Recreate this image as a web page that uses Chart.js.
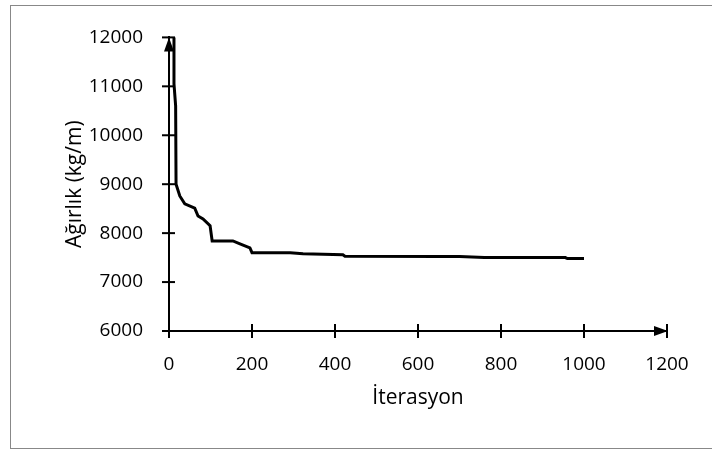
<!DOCTYPE html>
<html>
<head>
<meta charset="utf-8">
<script src="https://cdn.jsdelivr.net/npm/chart.js@4"></script>
<style>
    body { margin: 0; background: #fff; }
    #wrap { position: relative; width: 712px; height: 449px; }
    #frame { position: absolute; left: 10px; top: 5px; width: 710px; height: 442px; border: 1px solid #888; }
    canvas { position: absolute; left: 0; top: 0; }
</style>
</head>
<body>
<div id="wrap">
    <div id="frame"></div>
    <canvas id="chart" width="712" height="449"></canvas>
</div>
<script>
// Iteration numbers and weights
const iterations = [12, 12, 16, 17, 19, 26, 38, 62, 70, 82, 99, 104, 130, 154, 171, 195, 200, 292, 323, 419, 424, 653, 700, 760, 955, 960, 1000];
const weights = [12300, 11050, 10600, 9000, 9000, 8760, 8600, 8510, 8350, 8290, 8150, 7840, 7840, 7840, 7780, 7700, 7600, 7600, 7580, 7560, 7530, 7520, 7520, 7500, 7500, 7480, 7480];

const xTicks = [0, 200, 400, 600, 800, 1000, 1200];
const yTicks = [6000, 7000, 8000, 9000, 10000, 11000, 12000];

const fontFamily = "'Open Sans', sans-serif";

// Draw crossing tick marks and the arrow heads on both axes
const axisArrows = {
    id: 'axisArrows',
    afterDraw(chart) {
        const ctx = chart.ctx;
        const x = chart.scales.x;
        const y = chart.scales.y;
        const x0 = x.getPixelForValue(0);
        const y0 = y.getPixelForValue(6000);
        ctx.save();
        ctx.strokeStyle = '#000';
        ctx.fillStyle = '#000';
        ctx.lineWidth = 2;

        // y ticks
        yTicks.forEach(v => {
            const py = y.getPixelForValue(v);
            ctx.beginPath();
            ctx.moveTo(x0 - 7, py);
            ctx.lineTo(x0 + 6, py);
            ctx.stroke();
        });
        // x ticks
        xTicks.forEach(v => {
            const px = x.getPixelForValue(v);
            ctx.beginPath();
            ctx.moveTo(px, y0 - 7);
            ctx.lineTo(px, y0 + 7);
            ctx.stroke();
        });

        // up arrow on y axis
        const yTop = y.getPixelForValue(12000);
        ctx.beginPath();
        ctx.moveTo(x0, yTop);
        ctx.lineTo(x0 - 5, yTop + 14);
        ctx.lineTo(x0 + 5, yTop + 14);
        ctx.closePath();
        ctx.fill();

        // right arrow on x axis
        const xEnd = x.getPixelForValue(1200);
        ctx.beginPath();
        ctx.moveTo(xEnd + 1, y0);
        ctx.lineTo(xEnd - 13, y0 - 5);
        ctx.lineTo(xEnd - 13, y0 + 5);
        ctx.closePath();
        ctx.fill();
        ctx.restore();
    }
};

new Chart(document.getElementById('chart'), {
    type: 'line',
    data: {
        datasets: [{
            data: iterations.map((it, i) => ({ x: it, y: weights[i] })),
            borderColor: '#000',
            borderWidth: 3,
            pointRadius: 0,
            tension: 0,
            fill: false
        }]
    },
    options: {
        responsive: false,
        animation: false,
        layout: { padding: { left: 0, right: 45, top: 32, bottom: 0 } },
        plugins: { legend: { display: false }, tooltip: { enabled: false } },
        scales: {
            x: {
                type: 'linear',
                min: 0,
                max: 1200,
                afterBuildTicks: scale => { scale.ticks = xTicks.map(v => ({ value: v })); },
                afterFit: scale => { scale.height = 118; },
                grid: { display: false, drawTicks: false },
                border: { display: true, color: '#000', width: 2 },
                ticks: { color: '#000', font: { family: fontFamily, size: 19 }, padding: 22, maxRotation: 0, callback: v => String(v) },
                title: { display: true, text: 'İterasyon', color: '#000', font: { family: fontFamily, size: 21 }, padding: { top: 6, bottom: 38 } }
            },
            y: {
                type: 'linear',
                min: 6000,
                max: 12000,
                afterBuildTicks: scale => { scale.ticks = yTicks.map(v => ({ value: v })); },
                afterFit: scale => { scale.width = 169; },
                grid: { display: false, drawTicks: false },
                border: { display: true, color: '#000', width: 2 },
                ticks: { color: '#000', font: { family: fontFamily, size: 19 }, padding: 26, callback: v => String(v) },
                title: { display: true, text: 'Ağırlık (kg/m)', color: '#000', font: { family: fontFamily, size: 21 }, padding: { top: 62, bottom: 0 } }
            }
        }
    },
    plugins: [axisArrows]
});
</script>
</body>
</html>
